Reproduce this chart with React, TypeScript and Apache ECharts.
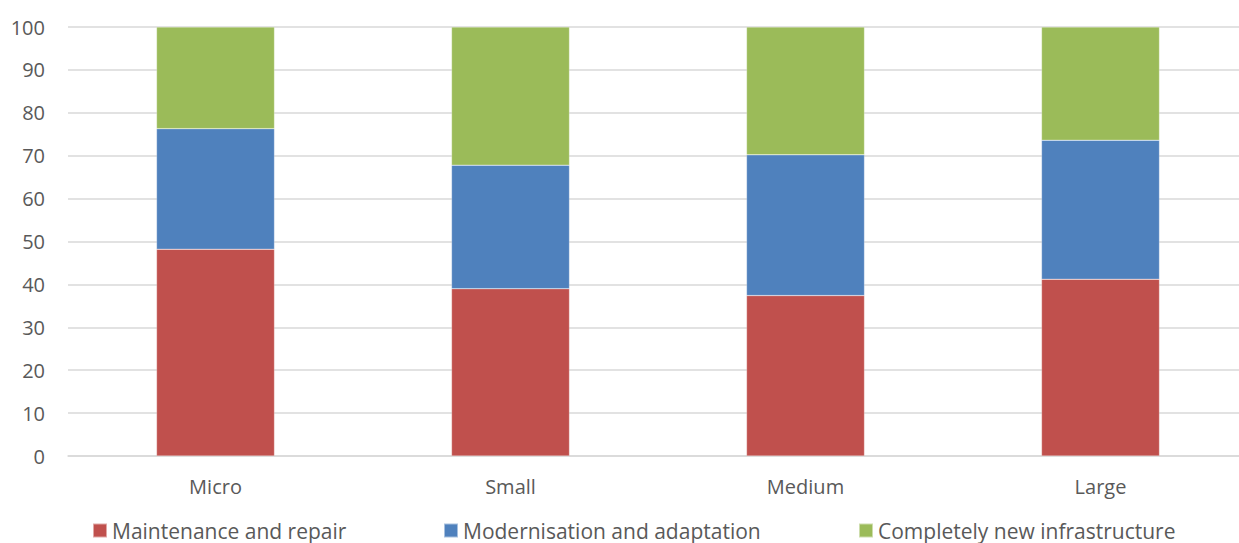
import React, { useEffect, useRef } from "react";
import * as echarts from "echarts";

const categories = ["Micro", "Small", "Medium", "Large"];
const maintenance = [48.2, 39.0, 37.4, 41.2];
const modernisation = [28.1, 28.8, 32.8, 32.4];
const newInfra = [23.7, 32.2, 29.8, 26.4];
const seriesNames = ["Maintenance and repair", "Modernisation and adaptation", "Completely new infrastructure"];
const colors = ["#C0504D", "#4F81BD", "#9BBB59"];

export default function App() {
  const ref = useRef<HTMLDivElement>(null);
  useEffect(() => {
    if (!ref.current) return;
    const chart = echarts.init(ref.current, null, { renderer: "svg" });
    const font = "'Open Sans', 'Liberation Sans', sans-serif";
    const legendLefts = [87, 438, 853];
    const data = [maintenance, modernisation, newInfra];
    chart.setOption({
      animation: false,
      textStyle: { fontFamily: font },
      grid: { left: 68, right: 0, top: 27, bottom: 87, containLabel: false },
      legend: seriesNames.map((n, i) => ({
        data: [n],
        left: legendLefts[i],
        top: 515,
        itemWidth: 14,
        itemHeight: 14,
        itemGap: 6,
        icon: "rect",
        textStyle: { fontSize: 21, color: "#595959", fontFamily: font },
      })),
      xAxis: {
        type: "category",
        data: categories,
        axisLine: { show: true, lineStyle: { color: "#D9D9D9", width: 1.5 } },
        axisTick: { show: false },
        axisLabel: { fontSize: 20, color: "#595959", margin: 20, fontFamily: font },
      },
      yAxis: {
        type: "value",
        min: 0,
        max: 100,
        interval: 10,
        axisLine: { show: false },
        axisTick: { show: false },
        splitLine: { lineStyle: { color: "#D9D9D9", width: 1.5 } },
        axisLabel: { fontSize: 20, color: "#595959", margin: 23, fontFamily: font },
      },
      series: seriesNames.map((n, i) => ({
        name: n,
        type: "bar",
        stack: "total",
        barWidth: 118,
        data: data[i],
        itemStyle: { color: colors[i], borderColor: "rgba(255,255,255,0.5)", borderWidth: 0.5 },
      })),
    });
    return () => chart.dispose();
  }, []);
  return (
    <div style={{ width: 1239, height: 543, position: "absolute", left: 0, top: 0, overflow: "hidden" }}>
      <div ref={ref} style={{ width: 1248, height: 543 }} />
    </div>
  );
}
